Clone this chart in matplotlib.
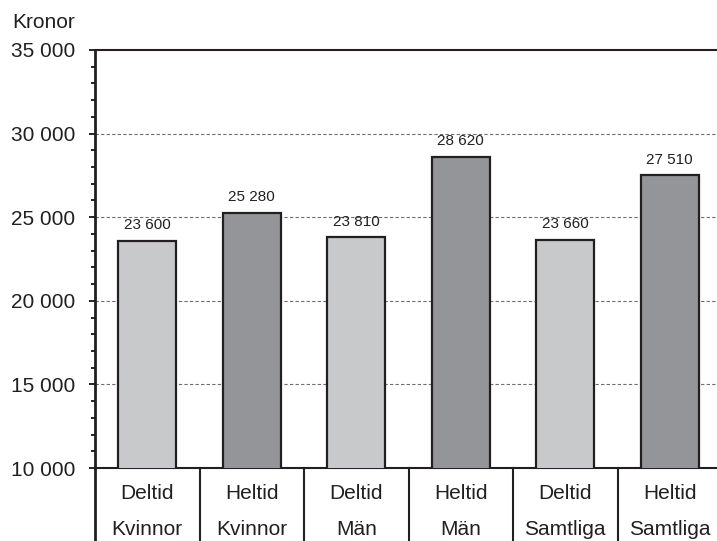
import matplotlib
matplotlib.use("Agg")
import matplotlib.pyplot as plt
from matplotlib.ticker import MultipleLocator, FuncFormatter

plt.rcParams['font.family'] = ['Liberation Sans', 'DejaVu Sans']

# data
tid = ["Deltid", "Heltid", "Deltid", "Heltid", "Deltid", "Heltid"]
grupp = ["Kvinnor", "Kvinnor", "Män", "Män", "Samtliga", "Samtliga"]
lon = [23600, 25280, 23810, 28620, 23660, 27510]
farger = ["#c8c9cb", "#939598", "#c8c9cb", "#939598", "#c8c9cb", "#939598"]

text_color = "#231f20"


def fmt(v, pos=None):
    return f"{int(v):,}".replace(",", " ")


fig = plt.figure(figsize=(7.17, 5.41), dpi=100)
W, H = 717, 541
ax = fig.add_axes([95 / W, 1 - 468 / H, 627 / W, 418 / H])

x = list(range(len(lon)))
ax.bar(x, lon, width=0.555, color=farger, edgecolor="#231f20", linewidth=1.6, zorder=3)

for xi, v in zip(x, lon):
    ax.annotate(fmt(v), (xi, v), xytext=(0, 6), textcoords="offset points",
                ha="center", va="bottom", fontsize=11, color=text_color)

ax.set_xlim(-0.5, len(lon) - 0.5)
ax.set_ylim(10000, 35000)
ax.yaxis.set_major_locator(MultipleLocator(5000))
ax.yaxis.set_minor_locator(MultipleLocator(1000))
ax.yaxis.set_major_formatter(FuncFormatter(fmt))
ax.tick_params(axis="y", which="major", length=4, width=1.2, pad=10,
               labelsize=15, labelcolor=text_color, direction="out")
ax.tick_params(axis="y", which="minor", length=3, width=1.2, direction="out")
ax.tick_params(axis="x", bottom=False, labelbottom=False)

for yv in [15000, 20000, 25000, 30000]:
    ax.axhline(yv, color="#6d6e70", linestyle=(0, (3, 2)), linewidth=0.8, zorder=1)

ax.spines["right"].set_visible(False)
ax.spines["top"].set_linewidth(1.5)
ax.spines["left"].set_linewidth(2)
ax.spines["bottom"].set_linewidth(1.5)
for s in ["top", "left", "bottom"]:
    ax.spines[s].set_color("#231f20")

# category table below the axis
tr = ax.get_xaxis_transform()
for b in range(len(lon) + 1):
    ax.plot([b - 0.5, b - 0.5], [0, -0.2], transform=tr, color="#231f20",
            linewidth=1.5 if b else 2, clip_on=False)
for xi, t, g in zip(x, tid, grupp):
    ax.text(xi, -0.06, t, transform=tr, ha="center", va="center",
            fontsize=15, color=text_color)
    ax.text(xi, -0.148, g, transform=tr, ha="center", va="center",
            fontsize=15, color=text_color)

fig.text(12 / W, 1 - 22 / H, "Kronor", ha="left", va="center",
         fontsize=15, color=text_color)

fig.savefig("out.png", dpi=100)
